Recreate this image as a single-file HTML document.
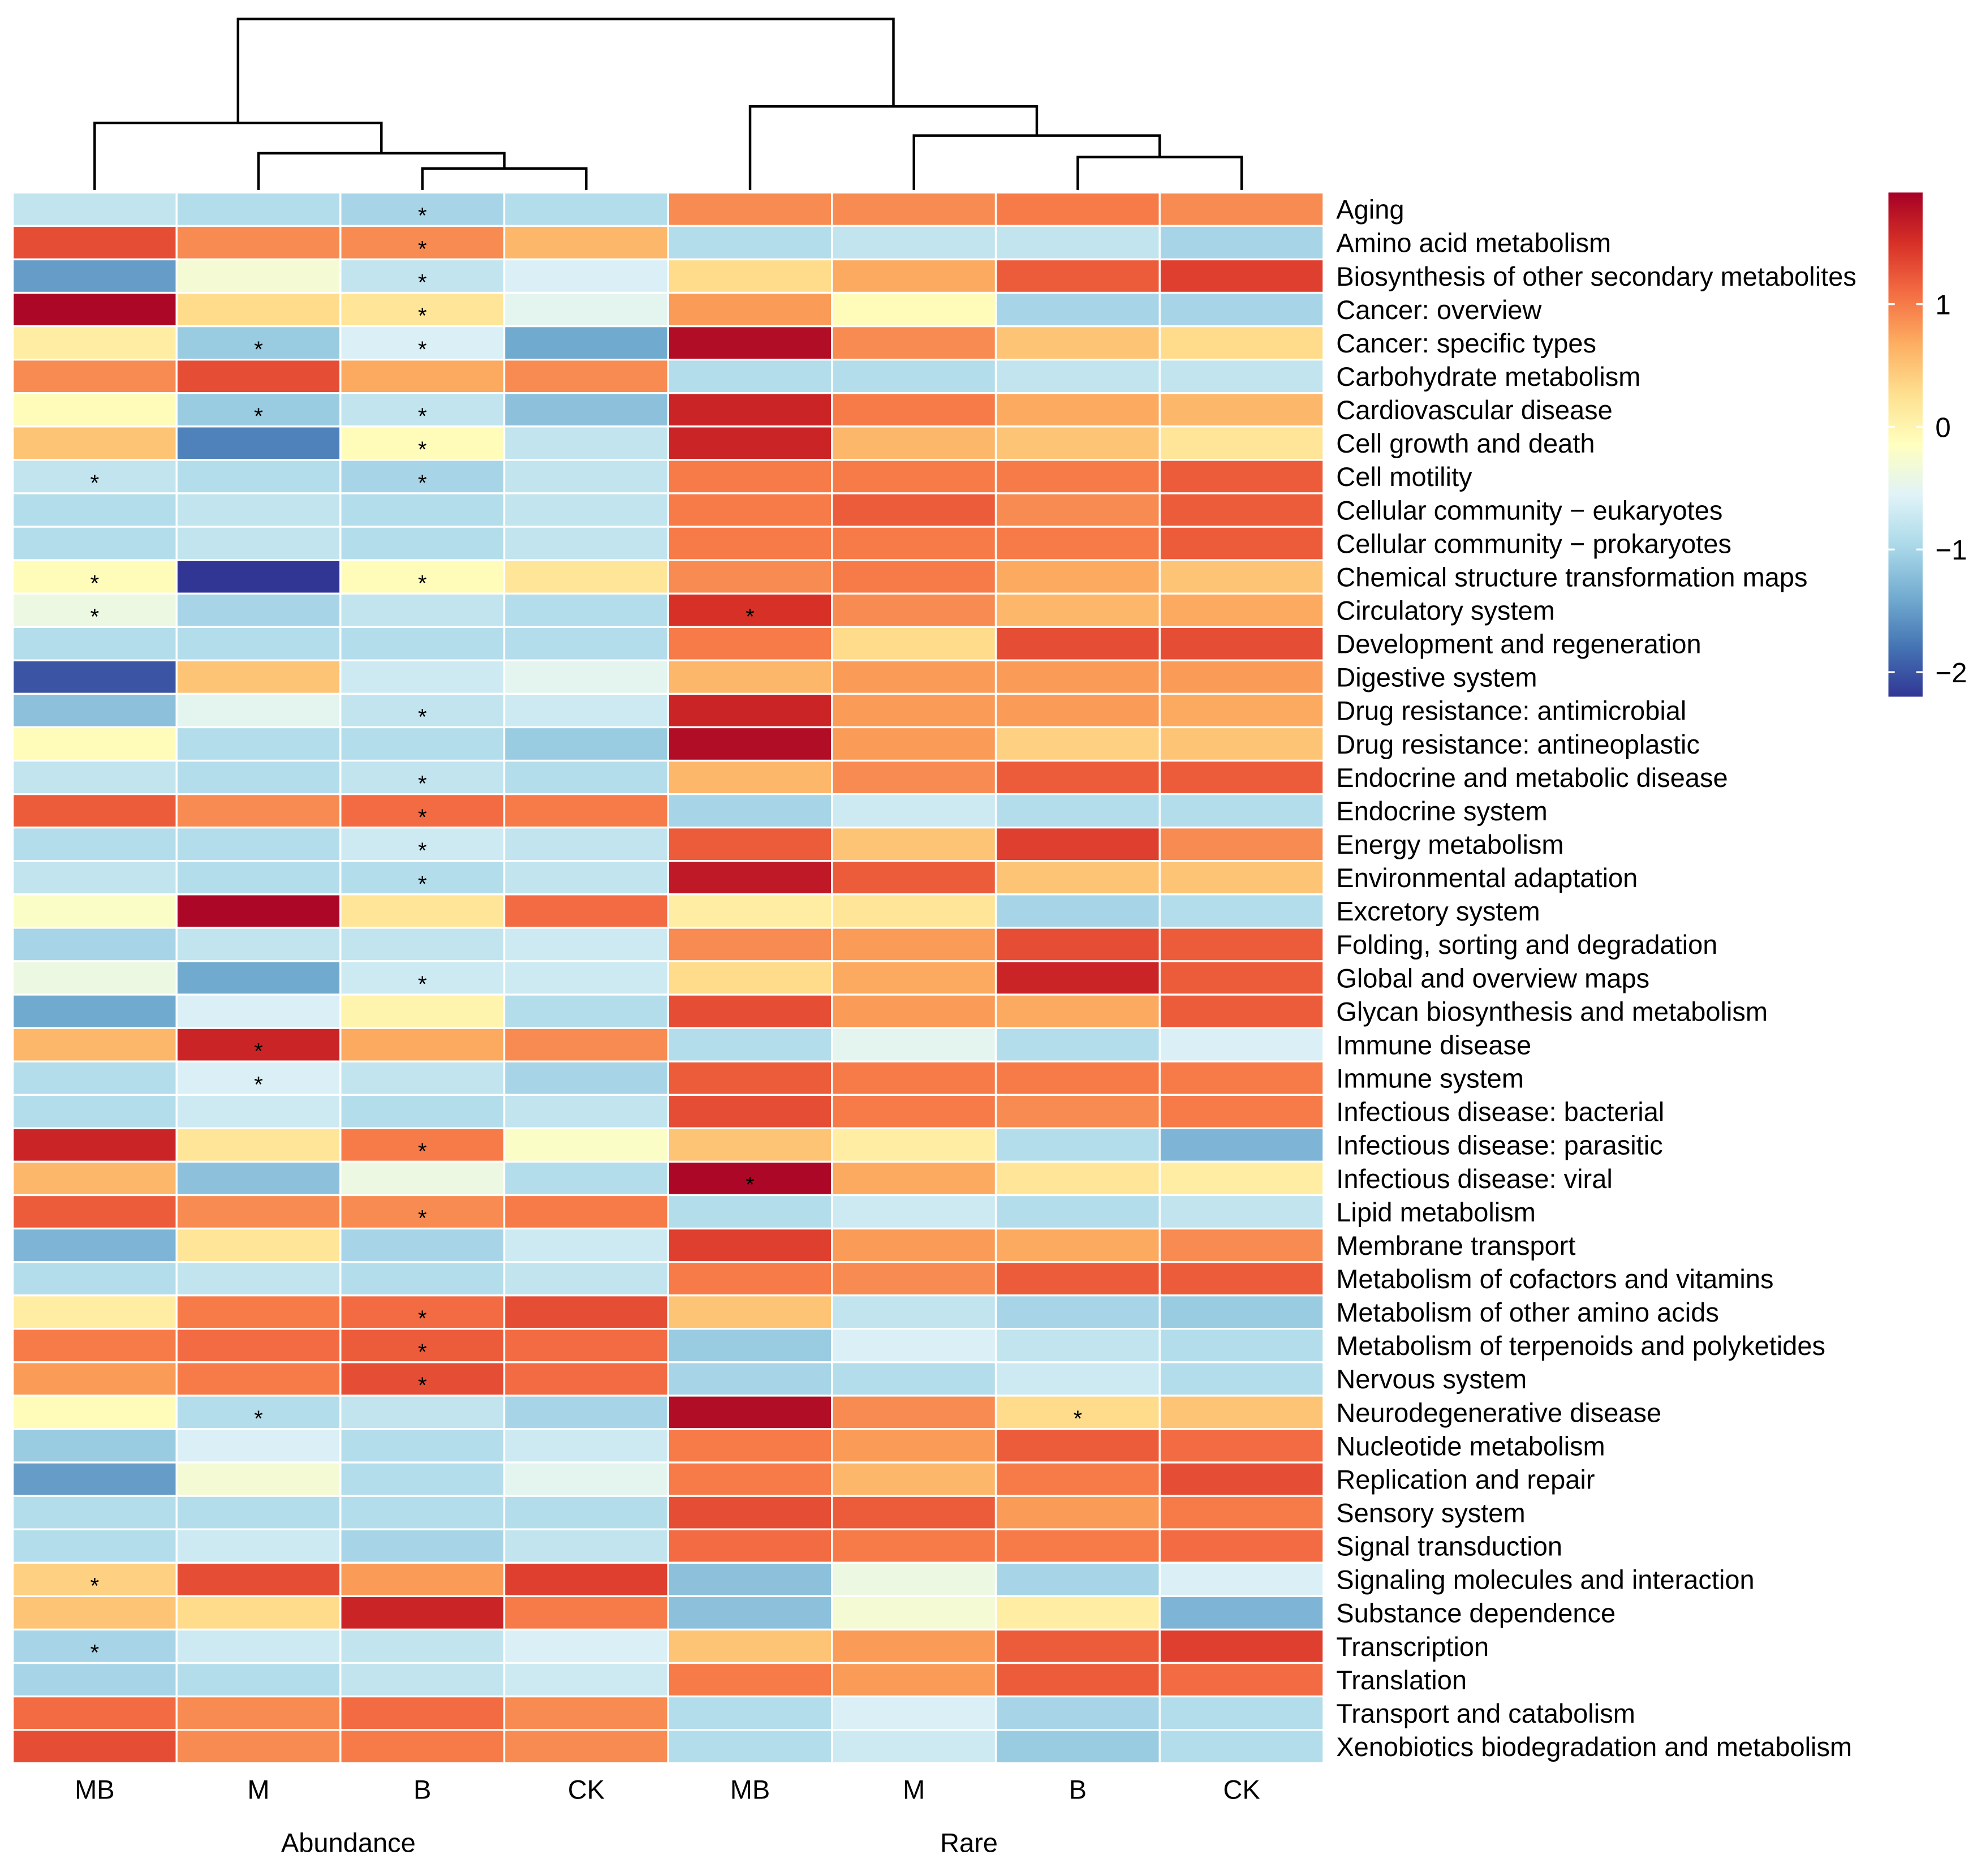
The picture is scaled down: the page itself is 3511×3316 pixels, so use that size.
<!DOCTYPE html>
<html><head><meta charset="utf-8"><style>
html,body{margin:0;padding:0;background:#fff}
svg{display:block;font-family:"Liberation Sans",Arial,sans-serif}
</style></head><body>
<svg id="chart" width="3511" height="3316" viewBox="0 0 1568 1481" xmlns="http://www.w3.org/2000/svg">
<g id="dendro" stroke="#000" stroke-width="2" fill="none"></g>
<g id="cells"></g>
<g id="stars"></g>
<g id="rowlabels"></g>
<g id="collabels"></g>
<g id="colorbar"></g>
</svg>
<script>
const rows = ["Aging","Amino acid metabolism","Biosynthesis of other secondary metabolites","Cancer: overview","Cancer: specific types","Carbohydrate metabolism","Cardiovascular disease","Cell growth and death","Cell motility","Cellular community \u2212 eukaryotes","Cellular community \u2212 prokaryotes","Chemical structure transformation maps","Circulatory system","Development and regeneration","Digestive system","Drug resistance: antimicrobial","Drug resistance: antineoplastic","Endocrine and metabolic disease","Endocrine system","Energy metabolism","Environmental adaptation","Excretory system","Folding, sorting and degradation","Global and overview maps","Glycan biosynthesis and metabolism","Immune disease","Immune system","Infectious disease: bacterial","Infectious disease: parasitic","Infectious disease: viral","Lipid metabolism","Membrane transport","Metabolism of cofactors and vitamins","Metabolism of other amino acids","Metabolism of terpenoids and polyketides","Nervous system","Neurodegenerative disease","Nucleotide metabolism","Replication and repair","Sensory system","Signal transduction","Signaling molecules and interaction","Substance dependence","Transcription","Translation","Transport and catabolism","Xenobiotics biodegradation and metabolism"];
const columns = ["MB","M","B","CK","MB","M","B","CK"];
const groups = ["Abundance","Rare"];
const values = [
[-0.8,-0.9,-1.0,-0.9,0.9,0.9,1.0,0.9],
[1.3,0.9,0.9,0.6,-0.9,-0.8,-0.8,-1.0],
[-1.5,-0.3,-0.8,-0.6,0.3,0.7,1.2,1.4],
[1.85,0.3,0.2,-0.5,0.8,-0.1,-1.0,-1.0],
[0.1,-1.1,-0.6,-1.4,1.8,0.9,0.5,0.3],
[0.9,1.3,0.7,0.9,-0.9,-0.9,-0.8,-0.8],
[-0.1,-1.1,-0.8,-1.2,1.6,1.0,0.7,0.6],
[0.5,-1.7,-0.1,-0.8,1.6,0.6,0.5,0.2],
[-0.8,-0.9,-1.0,-0.8,1.0,1.0,1.0,1.2],
[-0.9,-0.8,-0.9,-0.8,1.0,1.2,0.9,1.2],
[-0.9,-0.8,-0.9,-0.8,1.0,1.0,1.0,1.2],
[-0.1,-2.2,-0.1,0.2,0.9,1.0,0.7,0.5],
[-0.4,-1.0,-0.8,-0.9,1.5,0.9,0.6,0.7],
[-0.9,-0.9,-0.9,-0.9,1.0,0.3,1.3,1.3],
[-2.0,0.5,-0.7,-0.5,0.6,0.8,0.8,0.8],
[-1.2,-0.5,-0.8,-0.7,1.6,0.8,0.8,0.7],
[-0.1,-0.9,-0.9,-1.1,1.8,0.8,0.4,0.5],
[-0.8,-0.9,-0.8,-0.9,0.6,0.9,1.2,1.2],
[1.2,0.9,1.1,1.0,-1.0,-0.7,-0.9,-0.9],
[-0.9,-0.9,-0.7,-0.8,1.2,0.5,1.4,0.9],
[-0.8,-0.9,-0.9,-0.8,1.7,1.2,0.5,0.5],
[-0.2,1.85,0.2,1.1,0.1,0.2,-1.0,-0.9],
[-1.0,-0.8,-0.8,-0.7,0.9,0.8,1.3,1.2],
[-0.4,-1.4,-0.7,-0.7,0.3,0.7,1.6,1.2],
[-1.4,-0.6,0.0,-0.9,1.3,0.8,0.7,1.2],
[0.6,1.6,0.7,0.9,-0.9,-0.5,-0.9,-0.6],
[-0.9,-0.6,-0.8,-1.0,1.2,1.0,1.0,1.0],
[-0.9,-0.7,-0.9,-0.8,1.3,1.0,0.9,1.0],
[1.6,0.2,1.0,-0.2,0.5,0.1,-0.9,-1.3],
[0.6,-1.2,-0.4,-0.9,1.85,0.7,0.2,0.1],
[1.2,0.9,0.9,1.0,-0.9,-0.7,-0.9,-0.8],
[-1.3,0.2,-1.0,-0.7,1.4,0.8,0.7,0.9],
[-0.9,-0.8,-0.9,-0.8,1.0,0.9,1.2,1.2],
[0.1,1.0,1.1,1.3,0.5,-0.8,-1.0,-1.1],
[1.0,1.1,1.2,1.1,-1.1,-0.6,-0.8,-0.9],
[0.8,1.0,1.3,1.1,-1.0,-0.9,-0.7,-0.9],
[-0.1,-0.9,-0.8,-1.0,1.8,0.9,0.3,0.5],
[-1.1,-0.6,-0.9,-0.7,1.0,0.8,1.2,1.1],
[-1.5,-0.3,-0.9,-0.5,1.0,0.6,1.0,1.3],
[-0.9,-0.9,-0.9,-0.9,1.3,1.2,0.8,1.0],
[-0.9,-0.7,-1.0,-0.8,1.1,1.0,1.0,1.1],
[0.4,1.3,0.8,1.4,-1.2,-0.4,-1.0,-0.6],
[0.5,0.3,1.6,1.0,-1.2,-0.3,0.1,-1.3],
[-1.0,-0.7,-0.8,-0.6,0.5,0.8,1.2,1.4],
[-1.0,-0.9,-0.8,-0.7,1.0,0.8,1.2,1.1],
[1.1,0.9,1.1,0.9,-0.9,-0.6,-1.0,-0.9],
[1.3,0.9,1.0,0.9,-0.9,-0.7,-1.1,-0.9]];
const starCells = [[0,2],[1,2],[2,2],[3,2],[4,1],[4,2],[6,1],[6,2],[7,2],[8,0],[8,2],[11,0],[11,2],[12,0],[12,4],[15,2],[17,2],[18,2],[19,2],[20,2],[23,2],[25,1],[26,1],[28,2],[29,4],[30,2],[33,2],[34,2],[35,2],[36,1],[36,6],[41,0],[43,0]];
const cbTicks = [1,0,-1,-2];
const vmin = -2.2, vmax = 1.91;

const NS = "http://www.w3.org/2000/svg";
function mk(tag, attrs, parent){const e=document.createElementNS(NS,tag);for(const k in attrs)e.setAttribute(k,attrs[k]);parent.appendChild(e);return e;}
const L=10, R=1045, T=152, B=1392;
const cw=(R-L)/columns.length, rh=(B-T)/rows.length;
const xC = i => L + i*cw;
const yR = j => T + j*rh;
const stops=["#313695","#4575b4","#74add1","#abd9e9","#e0f3f8","#ffffbf","#fee090","#fdae61","#f46d43","#d73027","#a50026"];
function hex(h){return [1,3,5].map(i=>parseInt(h.substr(i,2),16));}
function color(v){let t=(v-vmin)/(vmax-vmin);t=Math.max(0,Math.min(1,t));const p=t*(stops.length-1);const i=Math.min(stops.length-2,Math.floor(p));const f=p-i;const a=hex(stops[i]),b=hex(stops[i+1]);return "rgb("+a.map((c,k)=>Math.round(c+(b[k]-c)*f)).join(",")+")";}

const cells=document.getElementById("cells");
values.forEach((row,j)=>row.forEach((v,i)=>{
  const r=mk("rect",{x:xC(i),y:yR(j),width:cw,height:rh,fill:color(v),stroke:"#fff","stroke-width":1.5},cells);
  
  
}));
const stars=document.getElementById("stars");
starCells.forEach(([j,i])=>{
  const t=mk("text",{x:xC(i)+cw/2,y:yR(j)+rh/2+11,"text-anchor":"middle","font-size":18,fill:"#000"},stars);
  t.textContent="*";
  
  
});
const rl=document.getElementById("rowlabels");
rows.forEach((n,j)=>{
  const t=mk("text",{x:1055,y:yR(j)+rh/2+7.5,"font-size":21,fill:"#000"},rl);
  t.textContent=n;
  
  
});
const cl=document.getElementById("collabels");
columns.forEach((n,i)=>{
  const t=mk("text",{x:xC(i)+cw/2,y:1420,"text-anchor":"middle","font-size":21,fill:"#000"},cl);
  t.textContent=n;
  
  
});
groups.forEach((g,k)=>{
  const t=mk("text",{x:k===0?275:765,y:1462,"text-anchor":"middle","font-size":21,fill:"#000"},cl);
  t.textContent=g;
  
  
});
const dg=document.getElementById("dendro");
const cx=i=>xC(i)+cw/2;
function link(x1,y1,x2,y2,ym){const p=mk("path",{d:`M${x1},${y1}V${ym}H${x2}V${y2}`},dg);}
link(cx(2),150,cx(3),150,133);
link(cx(1),150,(cx(2)+cx(3))/2,133,121);
link(cx(0),150,(cx(1)+(cx(2)+cx(3))/2)/2,121,97);
link(cx(6),150,cx(7),150,124);
link(cx(5),150,(cx(6)+cx(7))/2,124,107);
link(cx(4),150,(cx(5)+(cx(6)+cx(7))/2)/2,107,84);
link((cx(0)+(cx(1)+(cx(2)+cx(3))/2)/2)/2,97,(cx(4)+(cx(5)+(cx(6)+cx(7))/2)/2)/2,84,15);
const cb=document.getElementById("colorbar");
const cbT=152, cbB=550, cbX=1491, cbW=27;
const defs=mk("defs",{},cb);
const gr=mk("linearGradient",{id:"cbg",x1:0,y1:1,x2:0,y2:0},defs);
stops.forEach((s,k)=>mk("stop",{offset:k/(stops.length-1),"stop-color":s},gr));
const cbr=mk("rect",{x:cbX,y:cbT,width:cbW,height:cbB-cbT,fill:"url(#cbg)"},cb);


const yv=v=>cbB-(v-vmin)/(vmax-vmin)*(cbB-cbT);
cbTicks.forEach(v=>{
  mk("line",{x1:cbX,x2:cbX+5,y1:yv(v),y2:yv(v),stroke:"#fff","stroke-width":1.5},cb);
  mk("line",{x1:cbX+cbW-5,x2:cbX+cbW,y1:yv(v),y2:yv(v),stroke:"#fff","stroke-width":1.5},cb);
  const t=mk("text",{x:cbX+cbW+10,y:yv(v)+8,"font-size":22,fill:"#000"},cb);
  t.textContent=v<0?"\u2212"+Math.abs(v):String(v);
  
  
});
</script>
</body></html>
